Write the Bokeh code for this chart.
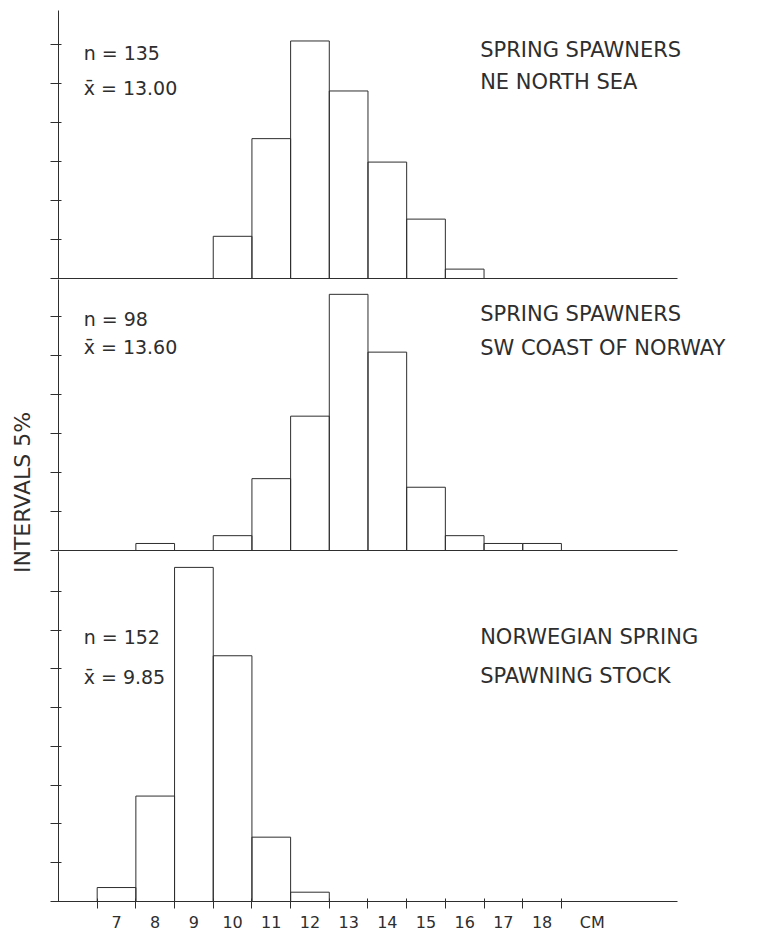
from bokeh.plotting import figure
from bokeh.layouts import column, row
from bokeh.models import Range1d, FixedTicker, Label
from bokeh.embed import file_html
from bokeh.resources import INLINE
import math

# ---- data (percent of fish per 1 cm length class) ----
lengths = [7, 8, 9, 10, 11, 12, 13, 14, 15, 16, 17, 18]
ne_north_sea = [0, 0, 0, 5.4, 17.9, 30.4, 24.0, 14.9, 7.6, 1.2, 0, 0]
sw_coast_norway = [0, 0.9, 0, 1.9, 9.2, 17.2, 32.8, 25.4, 8.1, 1.9, 0.9, 0.9]
norwegian_stock = [1.8, 13.6, 43.1, 31.7, 8.3, 1.2, 0, 0, 0, 0, 0, 0]

y_ticks_top = [0, 5, 10, 15, 20, 25, 30]
y_ticks_mid = [0, 5, 10, 15, 20, 25, 30]
y_ticks_bottom = [0, 5, 10, 15, 20, 25, 30, 35, 40]

stats_top = ["n = 135", "x\u0304 = 13.00"]
stats_mid = ["n = 98", "x\u0304 = 13.60"]
stats_bottom = ["n = 152", "x\u0304 = 9.85"]
title_top = ["SPRING SPAWNERS", "NE NORTH SEA"]
title_mid = ["SPRING SPAWNERS", "SW COAST OF NORWAY"]
title_bottom = ["NORWEGIAN SPRING", "SPAWNING STOCK"]
unit_label = "CM"
unit_pos = 19.3
y_label = "INTERVALS 5%"
axis_bounds = (5.5, 21.5)

INK = "#2e2e2e"
FONT = "DejaVu Sans"

x_range = Range1d(5.5, 23.75)


def make_panel(values, ymax, yticks, height, top_border, bottom_border,
               stats, titles, stat_y, title_y):
    p = figure(width=724, height=height, x_range=x_range,
               y_range=Range1d(0, ymax),
               output_backend="svg", toolbar_location=None,
               min_border_left=18, min_border_right=0,
               min_border_top=top_border, min_border_bottom=bottom_border)
    p.grid.visible = False
    p.outline_line_color = None
    p.background_fill_color = "white"

    xs = [l for l, v in zip(lengths, values) if v > 0]
    vs = [v for v in values if v > 0]
    p.vbar(x=xs, top=vs, bottom=0, width=1, fill_color=None,
           line_color=INK, line_width=1)

    ya = p.yaxis[0]
    ya.ticker = FixedTicker(ticks=[], minor_ticks=yticks)
    ya.major_label_standoff = 0
    ya.major_tick_in = 0
    ya.major_tick_out = 0
    ya.minor_tick_in = 3
    ya.minor_tick_out = 8
    ya.minor_tick_line_color = INK
    ya.axis_line_color = INK

    xa = p.xaxis[0]
    xa.bounds = axis_bounds
    xa.axis_line_color = INK

    for txt, yy in zip(stats, stat_y):
        p.add_layout(Label(x=6.15, y=yy, text=txt, text_font=FONT,
                           text_font_size="19px", text_color=INK,
                           text_baseline="middle", text_align="left"))
    for txt, yy in zip(titles, title_y):
        p.add_layout(Label(x=16.4, y=yy, text=txt, text_font=FONT,
                           text_font_size="21px", text_color=INK,
                           text_baseline="middle", text_align="left"))
    return p


def bare_x_axis(p):
    xa = p.xaxis[0]
    xa.ticker = FixedTicker(ticks=[])
    xa.major_tick_in = 0
    xa.major_tick_out = 0
    xa.minor_tick_in = 0
    xa.minor_tick_out = 0
    xa.major_label_standoff = 0


p1 = make_panel(ne_north_sea, 34.3, y_ticks_top, 279, 10, 1,
                stats_top, title_top, [28.8, 24.4], [29.2, 25.1])
bare_x_axis(p1)

p2 = make_panel(sw_coast_norway, 34.7, y_ticks_mid, 272, 0, 1,
                stats_mid, title_mid, [29.6, 26.1], [30.3, 25.9])
bare_x_axis(p2)

p3 = make_panel(norwegian_stock, 45.15, y_ticks_bottom, 383, 0, 30,
                stats_bottom, title_bottom, [34.1, 29.0], [34.1, 29.1])
xa = p3.xaxis[0]
edges = [l - 0.5 for l in lengths] + [lengths[-1] + 0.5]
xa.ticker = FixedTicker(ticks=lengths + [unit_pos], minor_ticks=edges)
xa.major_label_overrides = {unit_pos: unit_label}
xa.major_tick_in = 0
xa.major_tick_out = 0
xa.minor_tick_in = 3
xa.minor_tick_out = 7
xa.minor_tick_line_color = INK
xa.major_label_standoff = 4
xa.major_label_text_font = FONT
xa.major_label_text_font_size = "16px"
xa.major_label_text_color = INK

# narrow strip on the left holding the vertical axis title
side = figure(width=40, height=934, x_range=Range1d(0, 40),
              y_range=Range1d(0, 934), output_backend="svg",
              toolbar_location=None, min_border=0)
side.axis.visible = False
side.grid.visible = False
side.outline_line_color = None
side.add_layout(Label(x=22, y=442, text=y_label, angle=math.pi / 2,
                      text_font=FONT, text_font_size="22px", text_color=INK,
                      text_align="center", text_baseline="middle"))

layout = row(side, column(p1, p2, p3, spacing=0), spacing=0)
open("out.html", "w").write(file_html(layout, INLINE))
